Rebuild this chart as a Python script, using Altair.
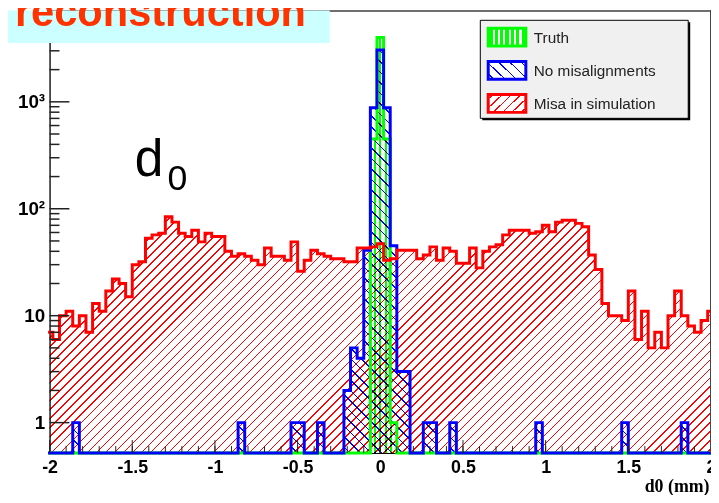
import altair as alt
import numpy as np
import pandas as pd

# ------------------------------------------------------------------ data
# 101 bins of width 0.04 centred on -2.00 ... 2.00
bin_centers = [round(-2.0 + 0.04 * k, 2) for k in range(101)]

misa_counts = [
    7, 6, 10, 11, 8, 10, 7, 13, 11, 17,
    22, 20, 15, 30, 32, 53, 57, 59, 84, 75,
    59, 55, 63, 49, 59, 55, 55, 40, 36, 38,
    36, 33, 30, 43, 36, 36, 33, 49, 26, 33,
    41, 38, 36, 34, 34, 32, 32, 43, 43, 44,
    47, 33, 34, 41, 41, 41, 34, 37, 44, 33,
    43, 40, 31, 31, 43, 28, 40, 44, 46, 57,
    63, 63, 63, 59, 61, 70, 61, 75, 78, 78,
    73, 68, 37, 27, 13, 10, 10, 9, 17, 6,
    11, 5, 7, 5, 10, 17, 10, 8, 7, 9,
    11]

nomis_counts = [
    0, 0, 0, 0, 1, 0, 0, 0, 0, 0,
    0, 0, 0, 0, 0, 0, 0, 0, 0, 0,
    0, 0, 0, 0, 0, 0, 0, 0, 0, 1,
    0, 0, 0, 0, 0, 0, 0, 1, 1, 0,
    0, 1, 0, 0, 0, 2, 5, 4, 41, 880,
    3050, 880, 45, 3, 3, 0, 0, 1, 1, 0,
    0, 1, 0, 0, 0, 0, 0, 0, 0, 0,
    0, 0, 0, 0, 1, 0, 0, 0, 0, 0,
    0, 0, 0, 0, 0, 0, 0, 1, 0, 0,
    0, 0, 0, 0, 0, 0, 1, 0, 0, 0,
    0]

truth_counts = [
    0, 0, 0, 0, 0, 0, 0, 0, 0, 0,
    0, 0, 0, 0, 0, 0, 0, 0, 0, 0,
    0, 0, 0, 0, 0, 0, 0, 0, 0, 0,
    0, 0, 0, 0, 0, 0, 0, 0, 0, 0,
    0, 0, 0, 0, 0, 0, 0, 0, 0, 450,
    4000, 450, 1, 0, 0, 0, 0, 0, 0, 0,
    0, 0, 0, 0, 0, 0, 0, 0, 0, 0,
    0, 0, 0, 0, 0, 0, 0, 0, 0, 0,
    0, 0, 0, 0, 0, 0, 0, 0, 0, 0,
    0, 0, 0, 0, 0, 0, 0, 0, 0, 0,
    0]

legend_labels = ["Truth", "No misalignments", "Misa in simulation"]
x_tick_labels = [-2, -1.5, -1, -0.5, 0, 0.5, 1, 1.5, 2]
x_minor_ticks = [round(-2 + 0.1 * i, 1) for i in range(41)]
y_tick_labels = [1, 10, 100, 1000]
y_minor_ticks = [m * d for d in (1, 10, 100, 1000) for m in range(2, 10)]

# ------------------------------------------------------------------ layout / style
PW, PH = 668, 447
YTOP, YBOT = 7160.0, 0.52
RED, BLUE, GREEN = "#FF0000", "#0000FF", "#00FF00"
GAP = "#FFFFFF"


def ypx(v):
    return PH * (np.log10(YTOP) - np.log10(v)) / (np.log10(YTOP) - np.log10(YBOT))


def hatch(color, W, H, spacing, lw, kind):
    """striped linear gradient imitating a ROOT hatch fill"""
    if kind == "|":
        L = W
        x1, y1, x2, y2 = 0, 0, 1, 0
    else:
        r = H / W
        s = (1 + r) / (1 + r * r)
        L = (W + H) / np.sqrt(2)
        if kind == "/":
            x1, y1, x2, y2 = 0, 0, s, s * r
        else:
            x1, y1, x2, y2 = 0, 1, s, 1 - s * r
    n = max(1, int(round(L / spacing)))
    w = lw / L
    stops = [alt.GradientStop(color=GAP, offset=0)]
    for i in range(n):
        c = (i + 0.5) / n
        a, b = max(c - w / 2, 0.0), min(c + w / 2, 1.0)
        stops += [alt.GradientStop(color=GAP, offset=float(a)),
                  alt.GradientStop(color=color, offset=float(a)),
                  alt.GradientStop(color=color, offset=float(b)),
                  alt.GradientStop(color=GAP, offset=float(b))]
    stops.append(alt.GradientStop(color=GAP, offset=1))
    return alt.LinearGradient(gradient="linear", stops=stops,
                              x1=float(x1), y1=float(y1), x2=float(x2), y2=float(y2))


hist = pd.DataFrame({
    "x": bin_centers,
    "misa": [max(v, YBOT) for v in misa_counts],
    "nomis": [max(v, YBOT) for v in nomis_counts],
    "truth": [max(v, YBOT) for v in truth_counts],
    "lo": [YBOT] * len(bin_centers),
})

xs = alt.Scale(domain=[-2, 2], nice=False, zero=False)
ys = alt.Scale(type="log", domain=[YBOT, YTOP], nice=False, clamp=True)

x_axis = alt.Axis(values=x_tick_labels, ticks=False, grid=False, domain=True,
                  domainColor="#000", domainWidth=1,
                  labelExpr="replace(format(datum.value, '~g'), '\u2212', '-')",
                  labelFont="Liberation Sans", labelFontWeight="bold", labelFontSize=18,
                  labelColor="#000", labelPadding=6, labelFlush=False, labelOverlap=False,
                  title="d0 (mm)", titleFont="Liberation Serif", titleFontWeight="bold",
                  titleFontSize=18, titleColor="#000", titleX=PW - 2, titleY=39,
                  titleAlign="right", titleBaseline="alphabetic")
y_axis = alt.Axis(values=y_tick_labels, ticks=False, grid=False, domain=True,
                  domainColor="#222", domainWidth=1.5,
                  labelExpr="datum.value == 1 ? '1' : datum.value == 10 ? '10' : datum.value == 100 ? '10\u00b2' : '10\u00b3'",
                  labelFont="Liberation Sans", labelFontWeight="bold", labelFontSize=19,
                  labelColor="#000", labelPadding=5, labelOverlap=False, title=None)

X = alt.X("x:Q", scale=xs, axis=x_axis)
base = alt.Chart(hist)


def area(col, grad):
    return base.mark_area(interpolate="step", fill=grad, strokeWidth=0, opacity=1,
                          blend="multiply").encode(
        x=X, y=alt.Y(f"{col}:Q", scale=ys, axis=y_axis), y2="lo:Q")


def line(col, color):
    return base.mark_line(interpolate="step", color=color, strokeWidth=3,
                          strokeJoin="miter", strokeCap="square").encode(
        x=X, y=alt.Y(f"{col}:Q", scale=ys, axis=y_axis))


H_red = PH - ypx(max(misa_counts))
H_blue = PH - ypx(max(nomis_counts))
H_green = PH - ypx(max(truth_counts))

g_area = area("truth", hatch(GREEN, PW, H_green, 5.5, 2.2, "|"))
g_line = line("truth", GREEN)
b_area = area("nomis", hatch(BLUE, PW, H_blue, 7.5, 1.1, "\\"))
b_line = line("nomis", BLUE)
r_area = area("misa", hatch(RED, PW, H_red, 6.4, 1.0, "/"))
r_line = line("misa", RED)

# inward ticks (ROOT style)
xt_major = pd.DataFrame({"v": x_tick_labels})
xt_minor = pd.DataFrame({"v": x_minor_ticks})
yt_major = pd.DataFrame({"v": y_tick_labels})
yt_minor = pd.DataFrame({"v": [v for v in y_minor_ticks if v < YTOP]})

XT = alt.X("v:Q", scale=xs, axis=x_axis)
YT = alt.Y("v:Q", scale=ys, axis=y_axis)
tick_col = "#222"
xmaj = alt.Chart(xt_major).mark_rule(color=tick_col, strokeWidth=1).encode(
    x=XT, y=alt.value(PH), y2=alt.value(PH - 13))
xmin = alt.Chart(xt_minor).mark_rule(color=tick_col, strokeWidth=1).encode(
    x=XT, y=alt.value(PH), y2=alt.value(PH - 7))
ymaj = alt.Chart(yt_major).mark_rule(color=tick_col, strokeWidth=1.5).encode(
    y=YT, x=alt.value(0), x2=alt.value(20))
ymin = alt.Chart(yt_minor).mark_rule(color=tick_col, strokeWidth=1.5).encode(
    y=YT, x=alt.value(0), x2=alt.value(10))

one = pd.DataFrame({"a": [0]})
A = alt.Chart(one)

frame_top = A.mark_rule(color="#444", strokeWidth=1.5).encode(
    x=alt.value(0), x2=alt.value(PW), y=alt.value(0.5))
frame_right = A.mark_rule(color="#444", strokeWidth=1).encode(
    x=alt.value(PW - 0.5), y=alt.value(0), y2=alt.value(PH))

title_box = A.mark_rect(color="#CCFFFF", opacity=1).encode(
    x=alt.value(-42), x2=alt.value(283), y=alt.value(0), y2=alt.value(33))
title_text = A.mark_text(text="reconstruction", font="Liberation Sans", fontWeight="bold",
                         fontSize=42, color="#FF3300", align="left", baseline="alphabetic").encode(
    x=alt.value(-35), y=alt.value(16))

d_text = A.mark_text(text="d", font="Liberation Sans", fontSize=52, color="#000",
                     align="left", baseline="alphabetic").encode(x=alt.value(86), y=alt.value(167))
d_sub = A.mark_text(text="0", font="Liberation Sans", fontSize=36, color="#000",
                    align="left", baseline="alphabetic").encode(x=alt.value(119), y=alt.value(181))

# legend
LX0, LX1, LY0, LY1 = 435, 645, 10, 109
leg_shadow = A.mark_rect(color="#000", opacity=1).encode(
    x=alt.value(LX0 + 2), x2=alt.value(LX1 + 2), y=alt.value(LY0 + 2), y2=alt.value(LY1 + 2))
leg_box = A.mark_rect(fill="#F0F0F0", stroke="#000", strokeWidth=1, opacity=1).encode(
    x=alt.value(LX0), x2=alt.value(LX1), y=alt.value(LY0), y2=alt.value(LY1))
leg_layers = [leg_shadow, leg_box]
entry_y = [27, 60.5, 94]
entry_style = [(GREEN, hatch(GREEN, 40, 20, 5.8, 3.5, "|")),
               (BLUE, hatch(BLUE, 40, 20, 8, 1.1, "\\")),
               (RED, hatch(RED, 40, 20, 7, 1.1, "/"))]
for lab, cy, (col, grad) in zip(legend_labels, entry_y, entry_style):
    leg_layers.append(A.mark_rect(fill=grad, stroke=col, strokeWidth=3, opacity=1).encode(
        x=alt.value(443), x2=alt.value(481), y=alt.value(cy - 9), y2=alt.value(cy + 9)))
    leg_layers.append(A.mark_text(text=lab, font="Liberation Sans", fontSize=15.5, color="#222",
                                  align="left", baseline="middle").encode(
        x=alt.value(489), y=alt.value(cy + 1)))

chart = alt.layer(
    g_area, b_area, r_area, g_line, b_line, r_line,
    xmin, xmaj, ymin, ymaj, frame_top, frame_right,
    title_box, title_text, d_text, d_sub, *leg_layers
).properties(
    width=PW, height=PH,
    padding={"left": 42, "top": 0, "right": 0, "bottom": 40},
    autosize=alt.AutoSizeParams(type="none"),
).configure_view(stroke=None).configure(font="Liberation Sans")

chart.save("out.html", embed_options={"renderer": "svg", "actions": False})
